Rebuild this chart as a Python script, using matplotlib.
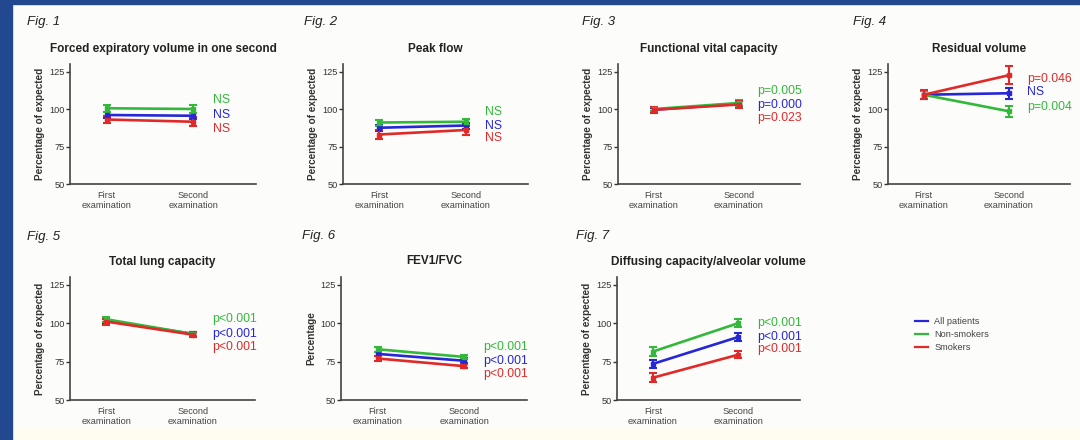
import matplotlib.pyplot as plt
from matplotlib.patches import Rectangle
from matplotlib.lines import Line2D

plt.rcParams['font.family'] = ['Liberation Sans', 'DejaVu Sans']

fig_labels = ["Fig. 1", "Fig. 2", "Fig. 3", "Fig. 4", "Fig. 5", "Fig. 6", "Fig. 7"]
titles = ["Forced expiratory volume in one second", "Peak flow", "Functional vital capacity",
          "Residual volume", "Total lung capacity", "FEV1/FVC", "Diffusing capacity/alveolar volume"]
ylabels = ["Percentage of expected"] * 5 + ["Percentage", "Percentage of expected"]
visits = ["First\nexamination", "Second\nexamination"]
groups = ["All patients", "Non-smokers", "Smokers"]

all_mean = [[96, 95.5], [87.5, 89], [99.5, 103.5], [109.5, 110.5], [101.5, 93], [80, 75.5], [73.5, 91]]
all_err = [[2, 2], [2, 2], [1.5, 2], [2.5, 3.5], [1.5, 1.5], [1.5, 1.5], [2.5, 2.5]]
non_mean = [[100.5, 100], [91, 91.5], [100, 104], [109.5, 98.5], [102.5, 93], [83, 78], [81.5, 100]]
non_err = [[2.5, 2.5], [2, 2], [1.5, 2], [2.5, 3.5], [1.5, 1.5], [1.5, 1.5], [3, 2.5]]
smk_mean = [[93, 91.5], [83, 86], [99.5, 103], [109.5, 122.5], [101, 92.5], [77, 72], [64.5, 79.5]]
smk_err = [[2.5, 3], [3, 3], [2, 2.5], [3, 6], [2, 1.5], [1.5, 1.5], [3, 2.5]]

all_sig = ["NS", "NS", "p=0.000", "NS", "p<0.001", "p<0.001", "p<0.001"]
non_sig = ["NS", "NS", "p=0.005", "p=0.004", "p<0.001", "p<0.001", "p<0.001"]
smk_sig = ["NS", "NS", "p=0.023", "p=0.046", "p<0.001", "p<0.001", "p<0.001"]

# layout, pixels: left, right, top(130), bottom(50)
boxes = [(70, 256, 64, 184), (343, 528, 64, 184), (618, 800, 64, 184), (888, 1070, 64, 184),
         (70, 255, 277, 400), (341, 527, 277, 400), (617, 800, 277, 400)]
fig_label_xy = [(27, 22), (304, 22), (582, 22), (853, 22), (27, 237), (302, 236), (576, 236)]
# label heights (all, non, smk) in data units
sig_y = [(96, 106, 87), (89, 98, 80.5), (102.7, 112.2, 93.8), (111.1, 101.6, 119.8),
         (92.9, 102.6, 84.7), (75.6, 84.3, 67), (91.2, 100.2, 83)]

blue = '#2727d6'
green = '#33b83c'
red = '#e02a2a'
W, H = 1080, 440

fig = plt.figure(figsize=(10.8, 4.4), dpi=100, facecolor='#fcfcfa')
fig.patches.append(Rectangle((0, 0), 1, 12 / H, transform=fig.transFigure,
                             color='#fffdf0', zorder=-2))
fig.patches.append(Rectangle((0, 0), 12 / W, 1, transform=fig.transFigure,
                             color='#22488f', zorder=-1))
fig.patches.append(Rectangle((0, 1 - 4 / H), 1, 4 / H, transform=fig.transFigure,
                             color='#22488f', zorder=-1))


def draw_panel(i):
    l, r, t, b = boxes[i]
    ax = fig.add_axes([l / W, 1 - b / H, (r - l) / W, (b - t) / H])
    ax.set_facecolor('none')
    x = [0, 1]
    for mean, err, col in [(all_mean[i], all_err[i], blue),
                           (non_mean[i], non_err[i], green),
                           (smk_mean[i], smk_err[i], red)]:
        ax.errorbar(x, mean, yerr=err, color=col, lw=1.9, elinewidth=1.5,
                    capsize=2.8, capthick=1.5, marker='s', ms=3)
    ax.set_xlim(-0.42, 1.72)
    ax.set_ylim(50, 130)
    ax.set_yticks([50, 75, 100, 125])
    ax.set_xticks(x)
    ax.set_xticklabels(visits, fontsize=6.6, color='#444444', linespacing=1.1)
    ax.tick_params(axis='x', length=0, pad=5)
    ax.tick_params(axis='y', length=3, width=1, labelsize=6.6, colors='#333333', pad=1)
    for s in ['top', 'right']:
        ax.spines[s].set_visible(False)
    for s in ['left', 'bottom']:
        ax.spines[s].set_color('#444444')
        ax.spines[s].set_linewidth(1.2)
    ax.set_ylabel(ylabels[i], fontsize=7.2, fontweight='bold', color='#333333', labelpad=3)
    ax.set_title(titles[i], fontsize=8.5, fontweight='bold', color='#222222', pad=9)
    ya, yn, ys = sig_y[i]
    ax.text(1.22, yn, non_sig[i], color=green, fontsize=8.8, va='center', ha='left')
    ax.text(1.22, ya, all_sig[i], color=blue, fontsize=8.8, va='center', ha='left')
    ax.text(1.22, ys, smk_sig[i], color=red, fontsize=8.8, va='center', ha='left')
    lx, ly = fig_label_xy[i]
    fig.text(lx / W, 1 - ly / H, fig_labels[i], fontsize=9.5, style='italic',
             color='#222222', va='center', ha='left')


for i in range(len(titles)):
    draw_panel(i)

handles = [Line2D([], [], color=c, lw=1.6) for c in [blue, green, red]]
fig.legend(handles, groups, loc='upper left', bbox_to_anchor=(915 / W, 1 - 317 / H),
           frameon=False, fontsize=6.6, labelcolor='#444444', handlelength=1.4,
           handletextpad=0.7, labelspacing=0.45, borderpad=0, borderaxespad=0)

fig.savefig('out.png', dpi=100, facecolor=fig.get_facecolor())
